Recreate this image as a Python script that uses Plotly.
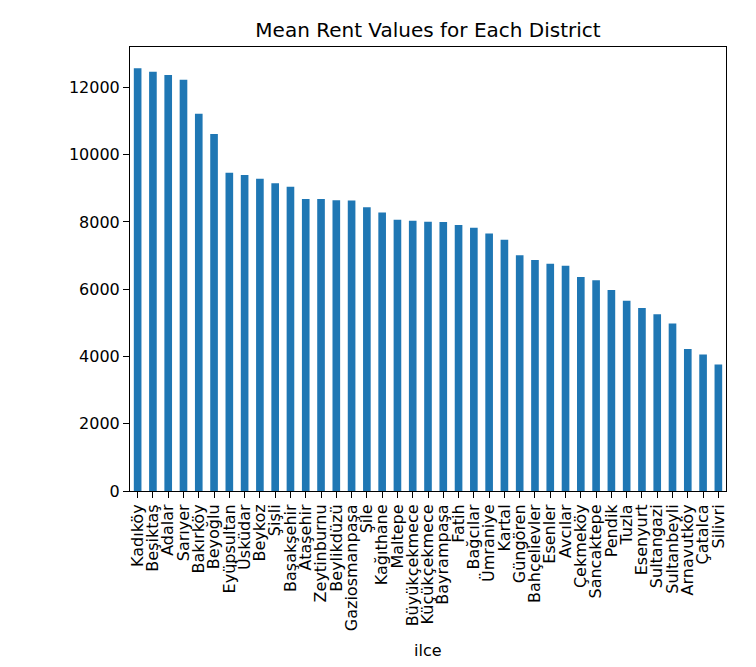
import plotly.graph_objects as go

districts = ["Kadıköy", "Beşiktaş", "Adalar", "Sarıyer", "Bakırköy", "Beyoğlu", "Eyüpsultan",
             "Üsküdar", "Beykoz", "Şişli", "Başakşehir", "Ataşehir", "Zeytinburnu", "Beylikdüzü",
             "Gaziosmanpaşa", "Şile", "Kağıthane", "Maltepe", "Büyükçekmece", "Küçükçekmece",
             "Bayrampaşa", "Fatih", "Bağcılar", "Ümraniye", "Kartal", "Güngören", "Bahçelievler",
             "Esenler", "Avcılar", "Çekmeköy", "Sancaktepe", "Pendik", "Tuzla", "Esenyurt",
             "Sultangazi", "Sultanbeyli", "Arnavutköy", "Çatalca", "Silivri"]
mean_rent = [12575, 12465, 12375, 12230, 11220, 10615, 9465,
             9395, 9285, 9150, 9050, 8685, 8680, 8645,
             8640, 8435, 8285, 8070, 8040, 8005,
             8000, 7910, 7830, 7655, 7475, 7010, 6870,
             6760, 6695, 6365, 6265, 5980, 5655, 5445,
             5255, 4980, 4225, 4060, 3760]
y_ticks = [0, 2000, 4000, 6000, 8000, 10000, 12000]

fig = go.Figure(go.Bar(x=list(range(len(districts))), y=mean_rent, marker_color="#1f77b4",
                       marker_line_width=0, width=0.5))

font = "DejaVu Sans, sans-serif"
W, H = 756, 667
L, R, T, B = 122, 38, 39, 184
plot_h = H - T - B
fig.update_layout(
    width=W, height=H,
    margin=dict(l=L, r=R, t=T, b=B),
    paper_bgcolor="white", plot_bgcolor="white",
    font=dict(family=font, size=16, color="black"),
    title=dict(text="Mean Rent Values for Each District", x=0.5,
               xref="paper", xanchor="center", y=1 - 22 / H, yanchor="middle",
               font=dict(size=20, family=font, color="black")),
    showlegend=False,
    annotations=[dict(text="ilce", x=0.5, xref="paper", xanchor="center",
                      y=-(642 - (H - B)) / plot_h, yref="paper", yanchor="middle",
                      showarrow=False, font=dict(size=16, family=font, color="black"))],
)
fig.update_xaxes(
    range=[-0.5, len(districts) - 0.5], tickmode="array",
    tickvals=list(range(len(districts))), ticktext=districts, tickangle=-90,
    showline=True, linecolor="black", linewidth=1, mirror=True, automargin=False,
    ticks="outside", ticklen=6, tickcolor="black", showgrid=False, zeroline=False,
)
fig.update_yaxes(
    range=[0, 13204], tickmode="array", tickvals=y_ticks, ticktext=[str(v) for v in y_ticks],
    showline=True, linecolor="black", linewidth=1, mirror=True, automargin=False,
    ticks="outside", ticklen=6, tickcolor="black", showgrid=False, zeroline=False,
)
fig.write_html("out.html")
